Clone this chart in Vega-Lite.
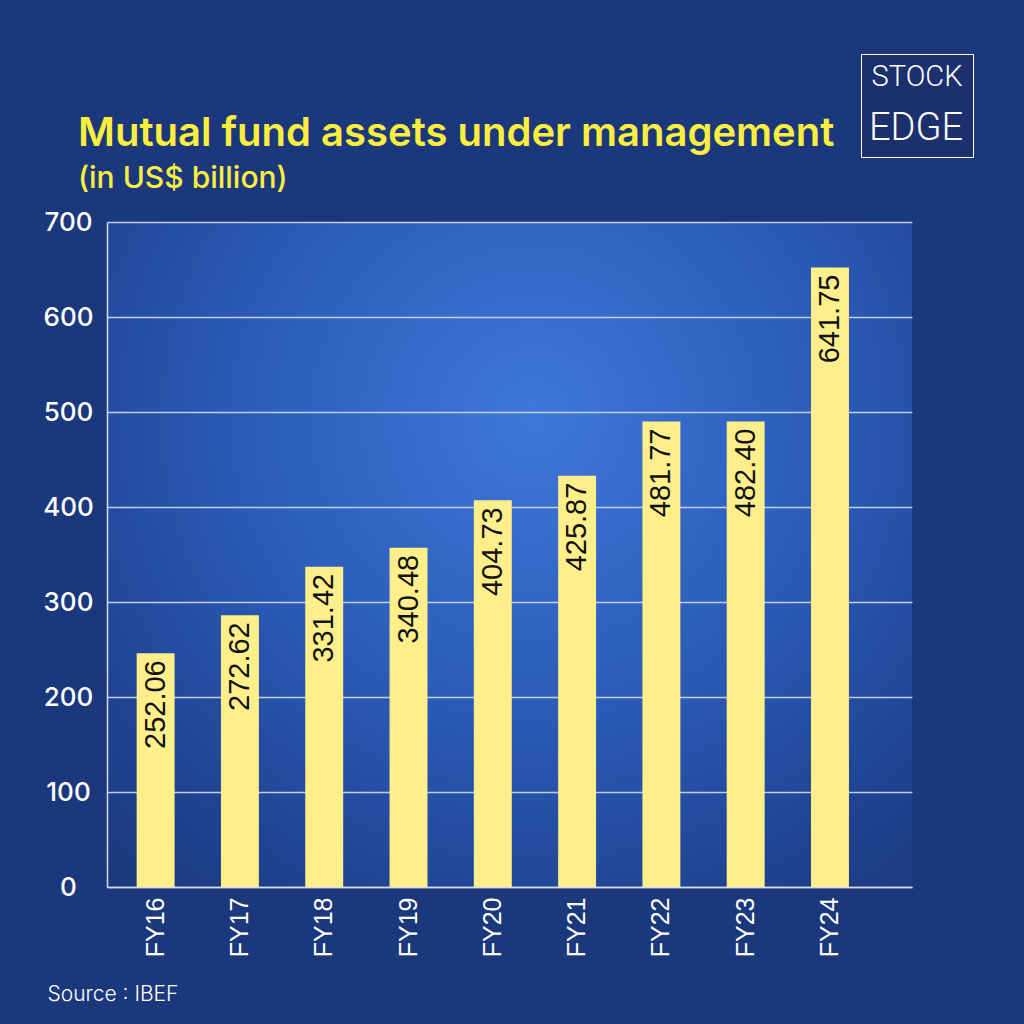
{
  "$schema": "https://vega.github.io/schema/vega-lite/v6.json",
  "width": 805,
  "height": 665,
  "autosize": {"type": "none"},
  "padding": {"left": 107, "top": 222, "right": 112, "bottom": 137},
  "background": "#1b387c",
  "view": {
    "stroke": null,
    "fill": {
      "gradient": "radial",
      "x1": 0.53, "y1": 0.33, "r1": 0,
      "x2": 0.53, "y2": 0.33, "r2": 0.8,
      "stops": [
        {"offset": 0, "color": "#3f78da"},
        {"offset": 0.45, "color": "#2b5cb9"},
        {"offset": 0.8, "color": "#1f4290"},
        {"offset": 1, "color": "#1b377a"}
      ]
    }
  },
  "title": {
    "text": "Mutual fund assets under management",
    "subtitle": "(in US$ billion)",
    "anchor": "start",
    "frame": "group",
    "dx": -29,
    "dy": 160,
    "offset": 20,
    "font": "Inter",
    "fontSize": 40,
    "fontWeight": 600,
    "color": "#fbee3e",
    "subtitleFont": "Inter",
    "subtitleFontSize": 30,
    "subtitleFontWeight": 500,
    "subtitleColor": "#fbee3e",
    "subtitlePadding": 10
  },
  "data": {
    "values": [
      {"fy": "FY16", "aum": 252.06, "bar": 246},
      {"fy": "FY17", "aum": 272.62, "bar": 286},
      {"fy": "FY18", "aum": 331.42, "bar": 337},
      {"fy": "FY19", "aum": 340.48, "bar": 357},
      {"fy": "FY20", "aum": 404.73, "bar": 407},
      {"fy": "FY21", "aum": 425.87, "bar": 433},
      {"fy": "FY22", "aum": 481.77, "bar": 490},
      {"fy": "FY23", "aum": 482.40, "bar": 490},
      {"fy": "FY24", "aum": 641.75, "bar": 652}
    ]
  },
  "encoding": {
    "x": {
      "field": "fy",
      "type": "nominal",
      "sort": null,
      "scale": {"paddingInner": 0.55, "paddingOuter": 0.55, "align": 0.32},
      "axis": {
        "labelAngle": 270,
        "labelFont": "Liberation Sans",
        "labelFontSize": 25,
        "labelColor": "#ffffff",
        "labelPadding": 10,
        "ticks": false,
        "domainColor": "#d3dcf2",
        "domainWidth": 1.5,
        "title": "Source : IBEF",
        "titleFont": "Inter",
        "titleFontSize": 21,
        "titleFontWeight": 300,
        "titleColor": "#ffffff",
        "titleAlign": "left",
        "titleAnchor": "start",
        "titleBaseline": "alphabetic",
        "titleX": -60,
        "titleY": 113
      }
    },
    "y": {
      "field": "bar",
      "type": "quantitative",
      "scale": {"domain": [0, 700], "nice": false},
      "axis": {
        "values": [0, 100, 200, 300, 400, 500, 600, 700],
        "title": null,
        "labelFont": "Inter",
        "labelFontSize": 26,
        "labelFontWeight": 500,
        "labelColor": "#ffffff",
        "labelAlign": "center",
        "labelPadding": 39,
        "ticks": false,
        "domainColor": "#d3dcf2",
        "domainWidth": 1.5,
        "grid": true,
        "gridColor": "#d3dcf2",
        "gridWidth": 1.5,
        "gridOpacity": 0.9
      }
    }
  },
  "layer": [
    {
      "mark": {"type": "bar"},
      "encoding": {
        "color": {
          "datum": "EDGE",
          "scale": {"range": ["#ffef8a"]},
          "legend": {
            "orient": "none",
            "legendX": 754,
            "legendY": -168,
            "title": "STOCK",
            "titleFont": "Roboto",
            "titleFontSize": 29,
            "titleFontWeight": 300,
            "titleColor": "#ffffff",
            "titleAnchor": "middle",
            "titlePadding": 18,
            "labelFont": "Roboto",
            "labelFontSize": 38,
            "labelFontWeight": 300,
            "labelColor": "#ffffff",
            "labelAlign": "left",
            "labelOffset": -39,
            "symbolSize": 0,
            "symbolOpacity": 0,
            "symbolStrokeWidth": 0,
            "padding": 9,
            "strokeColor": "#ffffff",
            "fillColor": "#1b306d"
          }
        }
      }
    },
    {
      "mark": {
        "type": "text",
        "angle": 270,
        "align": "right",
        "baseline": "middle",
        "dx": -7,
        "font": "Liberation Sans",
        "fontSize": 29,
        "color": "#111111"
      },
      "encoding": {
        "text": {"field": "aum", "type": "quantitative", "format": ".2f"}
      }
    }
  ]
}
